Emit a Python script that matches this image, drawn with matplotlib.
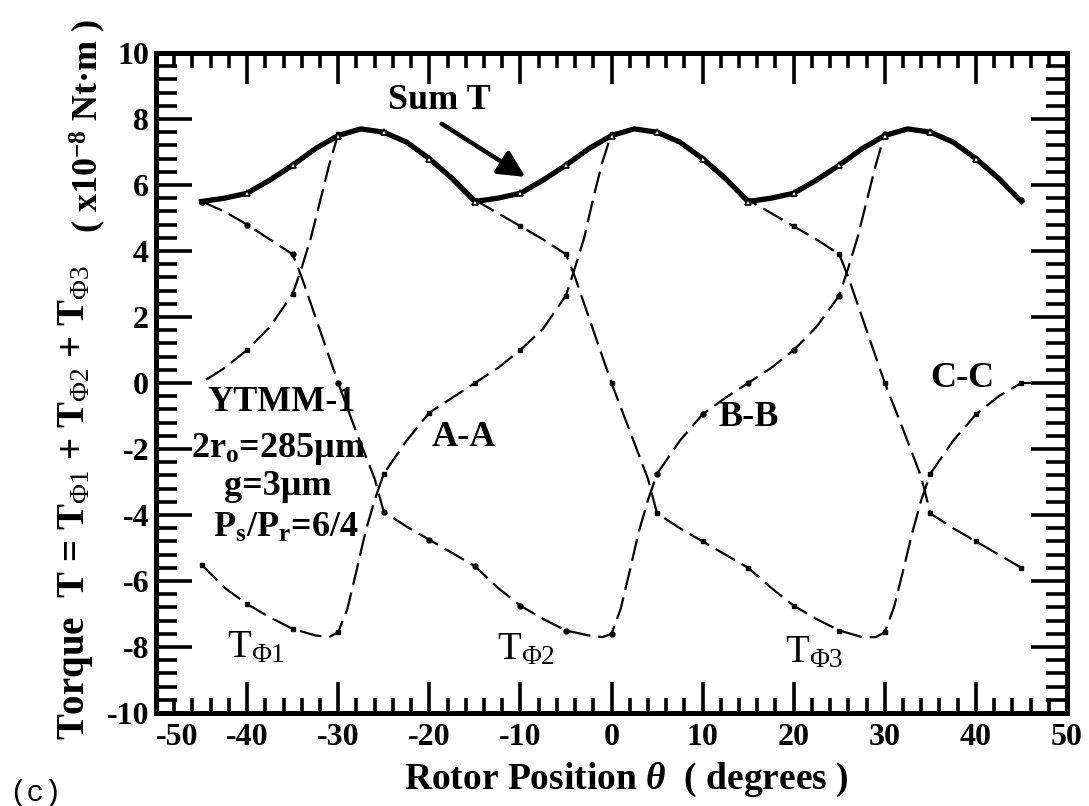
import numpy as np
import matplotlib.pyplot as plt
from matplotlib.ticker import MultipleLocator

plt.rcParams['font.family'] = 'Liberation Serif'
plt.rcParams['font.weight'] = 'bold'
plt.rcParams['axes.unicode_minus'] = False
plt.rcParams['mathtext.fontset'] = 'custom'
plt.rcParams['mathtext.rm'] = 'Liberation Serif:weight=normal'
plt.rcParams['mathtext.it'] = 'Liberation Serif:italic:weight=bold'
plt.rcParams['mathtext.bf'] = 'Liberation Serif:weight=bold'

# ---- data (torque in 1e-8 Nt.m, angle in degrees) ----
sum_x = [-45, -42.5, -40, -37.5, -35, -32.5, -30, -27.5, -25, -22.5, -20, -17.5, -15,
         -12.5, -10, -7.5, -5, -2.5, 0, 2.5, 5, 7.5, 10, 12.5, 15,
         17.5, 20, 22.5, 25, 27.5, 30, 32.5, 35, 37.5, 40, 42.5, 45]
sum_y = [5.5, 5.6, 5.75, 6.15, 6.6, 7.1, 7.5, 7.7, 7.6, 7.3, 6.8, 6.2, 5.5,
         5.6, 5.75, 6.15, 6.6, 7.1, 7.5, 7.7, 7.6, 7.3, 6.8, 6.2, 5.5,
         5.6, 5.75, 6.15, 6.6, 7.1, 7.5, 7.7, 7.6, 7.3, 6.8, 6.2, 5.5]

t1_x = [-45, -42.5, -40, -37.5, -35, -32.5, -31, -30, -29, -28, -27, -26, -25,
        -22.5, -20, -17.5, -15, -12.5, -10, -7.5, -5, -4, -3, -2, -1, 0,
        2.5, 5, 7.5, 10, 12.5, 15, 17.5, 20, 22.5, 25, 26, 27, 28, 29, 30,
        32, 34, 35, 37.5, 40, 42.5, 45]
t1_y = [-5.5, -6.2, -6.7, -7.1, -7.45, -7.65, -7.7, -7.55, -6.85, -5.7, -4.5, -3.55, -2.75,
        -1.75, -0.9, -0.45, 0.0, 0.45, 1.0, 1.65, 2.65, 3.5, 4.4, 5.6, 6.7, 7.55,
        7.7, 7.6, 7.3, 6.8, 6.2, 5.55, 5.15, 4.75, 4.35, 3.9, 3.2, 2.4, 1.6, 0.8, 0.0,
        -1.4, -2.85, -3.95, -4.4, -4.8, -5.2, -5.6]

t2_x = [-44.5, -42.5, -40, -37.5, -35, -34, -33, -32, -31, -30, -27.5, -25, -22.5, -20,
        -17.5, -15, -12.5, -10, -7.5, -5, -4, -3, -2, -1, 0, 2, 4, 5, 7.5, 10, 12.5,
        15, 17.5, 20, 22.5, 25, 27.5, 29, 30, 31, 32, 33, 34, 35, 37.5, 40, 42.5, 45, 49]
t2_y = [0.1, 0.45, 1.0, 1.7, 2.7, 3.5, 4.4, 5.5, 6.6, 7.55, 7.7, 7.6, 7.3, 6.8,
        6.2, 5.55, 5.15, 4.75, 4.35, 3.9, 3.2, 2.4, 1.6, 0.8, 0.0, -1.45, -2.9, -3.95, -4.4, -4.8, -5.2,
        -5.6, -6.2, -6.75, -7.15, -7.5, -7.7, -7.7, -7.55, -6.8, -5.7, -4.55, -3.55, -2.75, -1.75, -0.95, -0.4, 0.0, 0.0]

t3_x = [-45, -42.5, -40, -37.5, -35, -34, -33, -32, -31, -30, -28, -26, -25, -22.5, -20,
        -17.5, -15, -12.5, -10, -7.5, -5, -2.5, -1, 0, 1, 2, 3, 4, 5, 7.5, 10, 12.5,
        15, 17.5, 20, 22.5, 25, 26, 27, 28, 29, 30, 32.5, 35, 37.5, 40, 42.5, 45]
t3_y = [5.5, 5.2, 4.8, 4.35, 3.9, 3.2, 2.4, 1.6, 0.8, 0.0, -1.5, -2.9, -3.9, -4.35, -4.75,
        -5.15, -5.55, -6.2, -6.75, -7.15, -7.5, -7.65, -7.7, -7.6, -6.85, -5.7, -4.5, -3.55, -2.75, -1.75, -0.95, -0.45,
        0.0, 0.45, 1.0, 1.7, 2.65, 3.5, 4.4, 5.5, 6.6, 7.55, 7.7, 7.6, 7.3, 6.8, 6.2, 5.55]

x_ticks = list(range(-50, 51, 10))
y_ticks = list(range(-10, 11, 2))

fig = plt.figure(figsize=(10.89, 8.06), dpi=100)
ax = fig.add_axes([156 / 1089, 1 - 713 / 806, (1067 - 156) / 1089, (713 - 53) / 806])

# phase torques: thin dashed lines with small markers every 5 degrees
for xs, ys, mk in [(t1_x, t1_y, 's'), (t2_x, t2_y, 's'), (t3_x, t3_y, 'o')]:
    xs = np.array(xs)
    on5 = np.isclose(np.mod(xs, 5), 0)
    ax.plot(xs, ys, color='black', lw=1.6, ls=(0, (10, 3.5)), marker=mk, ms=3.5,
            markevery=list(np.where(on5)[0]), zorder=2)

# total torque: thick solid line with small triangles
sx = np.array(sum_x)
ax.plot(sx, sum_y, color='black', lw=3.8, solid_joinstyle='round', zorder=3)
ax.plot(sx[2:-1:2], np.array(sum_y)[2:-1:2], ls='none', marker='^', ms=5,
        mfc='white', mec='black', mew=1.2, zorder=4)

ax.set_xlim(-50, 50)
ax.set_ylim(-10, 10)
ax.set_xticks(x_ticks)
ax.set_yticks(y_ticks)
ax.xaxis.set_minor_locator(MultipleLocator(2))
ax.yaxis.set_minor_locator(MultipleLocator(0.4))
ax.tick_params(axis='x', which='major', direction='in', top=True, length=22, width=2.6,
               labelsize=23, pad=7)
ax.tick_params(axis='x', which='minor', direction='in', top=True, length=11, width=2.6)
ax.tick_params(axis='y', which='major', direction='in', right=True, length=26, width=2.6,
               labelsize=23, pad=5)
ax.tick_params(axis='y', which='minor', direction='in', right=True, length=15, width=2.6)
for s in ax.spines.values():
    s.set_linewidth(3.6)
for lab in ax.get_xticklabels() + ax.get_yticklabels():
    lab.set_fontweight('bold')
ax.get_xticklabels()[0].set_ha('left')

# annotations
big = 26
ax.text(-18.9, 8.55, 'Sum T', fontsize=big, ha='center', va='center')
ax.annotate('', xy=(-9.2, 6.2), xytext=(-18.9, 7.9),
            arrowprops=dict(arrowstyle='-|>', lw=3.2, color='black', mutation_scale=40))
ax.text(-36.2, -0.58, 'YTMM-1', fontsize=big, ha='center', va='center')
ax.text(-36.5, -2.0, '2r$_{\\mathbf{o}}$=285µm', fontsize=big, ha='center', va='center')
ax.text(-36.6, -3.15, 'g=3µm', fontsize=big, ha='center', va='center')
ax.text(-35.8, -4.4, 'P$_{\\mathbf{s}}$/P$_{\\mathbf{r}}$=6/4', fontsize=big, ha='center', va='center')
ax.text(-16.2, -1.65, 'A-A', fontsize=big, ha='center', va='center')
ax.text(15.1, -1.05, 'B-B', fontsize=big, ha='center', va='center')
ax.text(38.5, 0.15, 'C-C', fontsize=big, ha='center', va='center')
ax.text(-42.2, -8.32, 'T$_{\\mathrm{Φ1}}$', fontsize=28, fontweight='normal', ha='left', va='baseline')
ax.text(-12.6, -8.38, 'T$_{\\mathrm{Φ2}}$', fontsize=28, fontweight='normal', ha='left', va='baseline')
ax.text(19.0, -8.47, 'T$_{\\mathrm{Φ3}}$', fontsize=28, fontweight='normal', ha='left', va='baseline')

# axis titles
fig.text(626 / 1089, 1 - 789 / 806, 'Rotor Position $\\mathit{θ}$  ( degrees )',
         fontsize=27, ha='center', va='baseline')
fig.text(84 / 1089, 1 - 740 / 806,
         'Torque  T = T$_{\\mathrm{Φ1}}$ + T$_{\\mathrm{Φ2}}$ + T$_{\\mathrm{Φ3}}$',
         fontsize=28, rotation=90, rotation_mode='anchor', ha='left', va='baseline')
fig.text(98 / 1089, 1 - 233 / 806, '( x10$^{\\mathbf{-8}}$ Nt·m )',
         fontsize=26, rotation=90, rotation_mode='anchor', ha='left', va='baseline')
fig.text(0.008, 0.006, '(c)', fontsize=21, fontweight='normal', family='Liberation Mono')

fig.savefig('out.png', dpi=100)
